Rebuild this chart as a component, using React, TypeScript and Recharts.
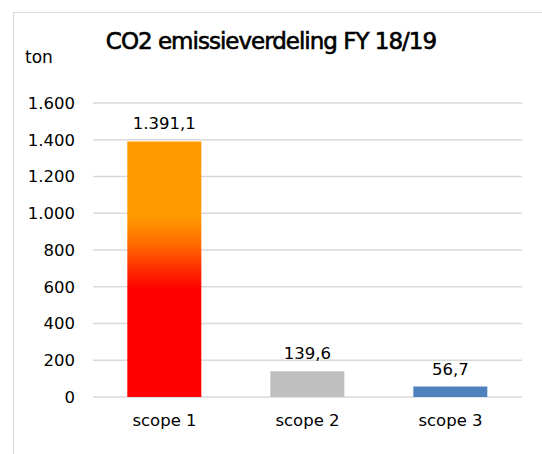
import { BarChart, Bar, XAxis, YAxis, CartesianGrid, LabelList, Cell } from 'recharts'

const categories = ['scope 1', 'scope 2', 'scope 3']
const emissions = [1391.1, 139.6, 56.7]
const yTicks = [0, 200, 400, 600, 800, 1000, 1200, 1400, 1600]
const barFills = ['url(#scope1Grad)', '#bfbfbf', '#4f81bd']

const data = categories.map((name, i) => ({ name, ton: emissions[i] }))

// Dutch number style: 1.391,1
function fmtNl(v: number, decimals: number) {
  const [int, dec] = v.toFixed(decimals).split('.')
  const withDots = int.replace(/\B(?=(\d{3})+(?!\d))/g, '.')
  return dec ? `${withDots},${dec}` : withDots
}

const font = '"DejaVu Sans", sans-serif'
const fs = 16.5

export default function App() {
  return (
    <div
      style={{
        position: 'absolute',
        left: 0,
        top: 0,
        width: 542,
        height: 454,
        background: '#fff',
        fontFamily: font,
        overflow: 'hidden',
      }}
    >
      <div
        style={{
          position: 'absolute',
          left: 13,
          top: 12,
          width: 560,
          height: 480,
          borderTop: '1px solid #d9d9d9',
          borderLeft: '1px solid #d9d9d9',
        }}
      />
      <div
        style={{
          position: 'absolute',
          left: 0,
          width: 542,
          top: 28,
          textAlign: 'center',
          fontSize: 23,
          letterSpacing: -1,
          WebkitTextStroke: '0.6px #000',
          color: '#000',
        }}
      >
        CO2 emissieverdeling FY 18/19
      </div>
      <div style={{ position: 'absolute', left: 25, top: 47, fontSize: 17, color: '#000' }}>ton</div>
      <BarChart
        width={542}
        height={454}
        data={data}
        margin={{ top: 103, right: 20, bottom: 0, left: 0 }}
        barCategoryGap="24%"
        style={{ position: 'absolute', left: 0, top: 0 }}
      >
        <defs>
          <linearGradient id="scope1Grad" x1="0" y1="0" x2="0" y2="1">
            <stop offset="0.3" stopColor="#ff9900" />
            <stop offset="0.4" stopColor="#ff6c00" />
            <stop offset="0.5" stopColor="#ff2c00" />
            <stop offset="0.58" stopColor="#ff0000" />
          </linearGradient>
        </defs>
        <CartesianGrid vertical={false} stroke="#d9d9d9" strokeWidth={1.5} />
        <XAxis
          dataKey="name"
          axisLine={false}
          tickLine={false}
          tickSize={0}
          tickMargin={17}
          height={57}
          tick={{ fill: '#000', fontSize: fs, fontFamily: font }}
        />
        <YAxis
          domain={[0, 1600]}
          ticks={yTicks}
          width={93}
          axisLine={false}
          tickLine={false}
          tickSize={0}
          tickMargin={18}
          tickFormatter={(v: number) => fmtNl(v, 0)}
          tick={{ fill: '#000', fontSize: fs, fontFamily: font }}
        />
        <Bar dataKey="ton" isAnimationActive={false}>
          {data.map((d, i) => (
            <Cell key={d.name} fill={barFills[i]} />
          ))}
          <LabelList
            dataKey="ton"
            position="top"
            offset={12}
            formatter={(v: number) => fmtNl(v, 1)}
            style={{ fill: '#000', fontSize: fs, fontFamily: font }}
          />
        </Bar>
      </BarChart>
    </div>
  )
}
